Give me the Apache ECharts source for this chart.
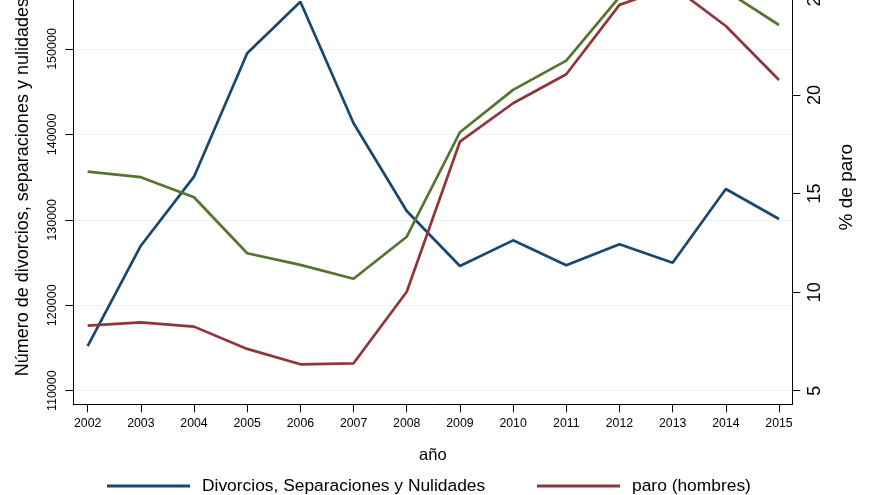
<!DOCTYPE html>
<html>
<head>
<meta charset="utf-8">
<script src="https://cdn.jsdelivr.net/npm/echarts@6/dist/echarts.min.js"></script>
<style>
html,body{margin:0;padding:0;background:#fff;}
#chart{width:880px;height:495px;}
</style>
</head>
<body>
<div id="chart"></div>
<script>
var years = [2002, 2003, 2004, 2005, 2006, 2007, 2008, 2009, 2010, 2011, 2012, 2013, 2014, 2015];
var divorcios = [115230, 126970, 135050, 149490, 155530, 141300, 131030, 124600, 127600, 124680, 127140, 124980, 133610, 130100];
var paroHombres = [8.30, 8.47, 8.25, 7.12, 6.34, 6.39, 10.02, 17.63, 19.58, 21.05, 24.57, 25.52, 23.50, 20.76];
var paroMujeres = [16.11, 15.83, 14.81, 11.97, 11.38, 10.68, 12.81, 18.11, 20.26, 21.74, 24.97, 26.70, 25.29, 23.55];
var leftTicks = [110000, 120000, 130000, 140000, 150000];
var rightTicks = [5, 10, 15, 20, 25];

var names = ['Divorcios, Separaciones y Nulidades', 'paro (hombres)', 'paro (mujeres)'];
var FONT = '"Liberation Sans", Arial, Helvetica, sans-serif';

function pairs(v) { return years.map(function (y, i) { return [y, v[i]]; }); }

var chart = echarts.init(document.getElementById('chart'), null, {renderer: 'canvas'});
chart.setOption({
  animation: false,
  backgroundColor: '#ffffff',
  textStyle: {fontFamily: FONT, color: '#000'},
  grid: {left: 73.3, right: 87.7, top: -30, bottom: 90.7, containLabel: false, outerBoundsMode: 'none'},
  xAxis: {
    type: 'value', min: 2001.73, max: 2015.25,
    name: 'año', nameLocation: 'middle', nameGap: 43,
    nameTextStyle: {fontSize: 16.5, color: '#000', fontFamily: FONT},
    axisLine: {show: true, lineStyle: {color: '#000', width: 1}},
    axisTick: {show: true, length: 8, customValues: years, lineStyle: {color: '#000', width: 1}},
    axisLabel: {customValues: years, margin: 13, fontSize: 12.3, color: '#000', fontFamily: FONT,
      formatter: function (v) { return String(v); }},
    splitLine: {show: false}
  },
  yAxis: [{
    type: 'value', position: 'left', min: 108408, max: 159245,
    name: 'Número de divorcios, separaciones y nulidades', nameLocation: 'middle', nameGap: 41,
    nameTextStyle: {fontSize: 18, color: '#000', fontFamily: FONT},
    axisLine: {show: true, lineStyle: {color: '#000', width: 1}},
    axisTick: {show: true, length: 8, customValues: leftTicks, lineStyle: {color: '#000', width: 1}},
    axisLabel: {customValues: leftTicks, rotate: 90, margin: 14, fontSize: 12.5, color: '#000', fontFamily: FONT,
      formatter: function (v) { return String(v); }},
    splitLine: {show: true, lineStyle: {color: '#eaf2f3', width: 1}}
  }, {
    type: 'value', position: 'right', min: 4.31, max: 26.34,
    name: '% de paro', nameLocation: 'middle', nameGap: 45,
    nameTextStyle: {fontSize: 19, color: '#000', fontFamily: FONT},
    axisLine: {show: true, lineStyle: {color: '#000', width: 1}},
    axisTick: {show: true, length: 8, customValues: rightTicks, lineStyle: {color: '#000', width: 1}},
    axisLabel: {customValues: rightTicks, rotate: 90, margin: 14, fontSize: 18, color: '#000', fontFamily: FONT,
      formatter: function (v) { return String(v); }},
    splitLine: {show: false}
  }],
  legend: [{
    left: 107, top: 476, padding: 0, orient: 'horizontal', data: [names[0]],
    icon: 'rect', itemWidth: 83, itemHeight: 3,
    textStyle: {fontSize: 17.4, lineHeight: 20, color: '#000', fontFamily: FONT, padding: [0, 0, 0, 7]}
  }, {
    left: 537, top: 476, padding: 0, orient: 'horizontal', data: [names[1]],
    icon: 'rect', itemWidth: 83, itemHeight: 3,
    textStyle: {fontSize: 17.4, lineHeight: 20, color: '#000', fontFamily: FONT, padding: [0, 0, 0, 7]}
  }],
  series: [{
    name: names[0], type: 'line', yAxisIndex: 0, data: pairs(divorcios),
    showSymbol: false, symbol: 'none', color: '#1a476f',
    lineStyle: {color: '#1a476f', width: 2.7}
  }, {
    name: names[1], type: 'line', yAxisIndex: 1, data: pairs(paroHombres),
    showSymbol: false, symbol: 'none', color: '#90353b',
    lineStyle: {color: '#90353b', width: 2.7}
  }, {
    name: names[2], type: 'line', yAxisIndex: 1, data: pairs(paroMujeres),
    showSymbol: false, symbol: 'none', color: '#55752f',
    lineStyle: {color: '#55752f', width: 2.7}
  }]
});
</script>
</body>
</html>
